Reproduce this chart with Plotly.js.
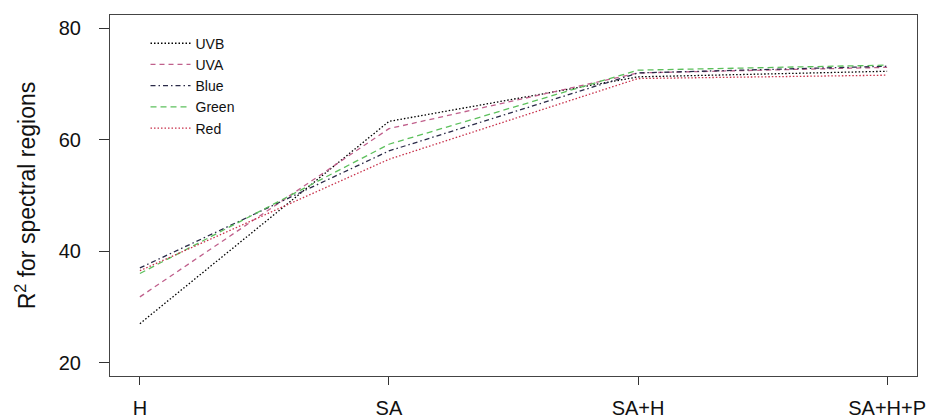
<!DOCTYPE html>
<html>
<head>
<meta charset="utf-8">
<script src="https://cdn.plot.ly/plotly-3.0.1.min.js"></script>
<style>html,body{margin:0;padding:0;background:#fff}#chart{width:930px;height:419px}</style>
</head>
<body>
<div id="chart"></div>
<script>
const categories = ["H", "SA", "SA+H", "SA+H+P"];
const seriesNames = ["UVB", "UVA", "Blue", "Green", "Red"];
const uvb   = [27.0, 63.3, 71.3, 72.3];
const uva   = [31.8, 62.0, 72.0, 73.0];
const blue  = [37.0, 58.0, 72.0, 73.2];
const green = [36.0, 59.2, 72.5, 73.4];
const red   = [36.5, 56.5, 71.0, 71.6];

const values = [uvb, uva, blue, green, red];
const colors = ["#000000", "#c0608c", "#2a2a48", "#5cc05c", "#c8304a"];
const dashes = ["1.5px,2px", "5px,4px", "5px,3px,1.5px,3px", "6px,4px", "1.5px,2px"];

const xpos = categories.map((c, i) => i + 1);
const traces = values.map((v, i) => ({
  x: xpos, y: v, type: "scatter", mode: "lines", name: seriesNames[i],
  line: {color: colors[i], width: 1.3, dash: dashes[i]}
}));

const layout = {
  width: 930, height: 419,
  margin: {l: 110, r: 13, t: 15, b: 43},
  paper_bgcolor: "#fff", plot_bgcolor: "#fff",
  font: {family: "Liberation Sans, Arial, sans-serif", color: "#111"},
  showlegend: true,
  legend: {x: 0.044, y: 0.965, xanchor: "left", yanchor: "top", bgcolor: "rgba(0,0,0,0)",
           font: {size: 14, color: "#111"}, tracegroupgap: 0, itemwidth: 40},
  xaxis: {
    range: [0.88, 4.12], tickmode: "array", tickvals: xpos, ticktext: categories,
    showgrid: false, zeroline: false, showline: true, mirror: true, linecolor: "#444", linewidth: 1,
    ticks: "outside", ticklen: 8, tickcolor: "#333", tickfont: {size: 20, color: "#111"},
    ticklabelstandoff: 6
  },
  yaxis: {
    range: [17.6, 82.4], tickvals: [20, 40, 60, 80],
    showgrid: false, zeroline: false, showline: true, mirror: true, linecolor: "#444", linewidth: 1,
    ticks: "outside", ticklen: 10, tickcolor: "#333", tickfont: {size: 20, color: "#111"},
    ticklabelstandoff: 14,
    title: {text: "R<sup>2</sup> for spectral regions", font: {size: 23, color: "#111"}, standoff: 16}
  }
};
Plotly.newPlot("chart", traces, layout, {displayModeBar: false, staticPlot: true});
</script>
</body>
</html>
